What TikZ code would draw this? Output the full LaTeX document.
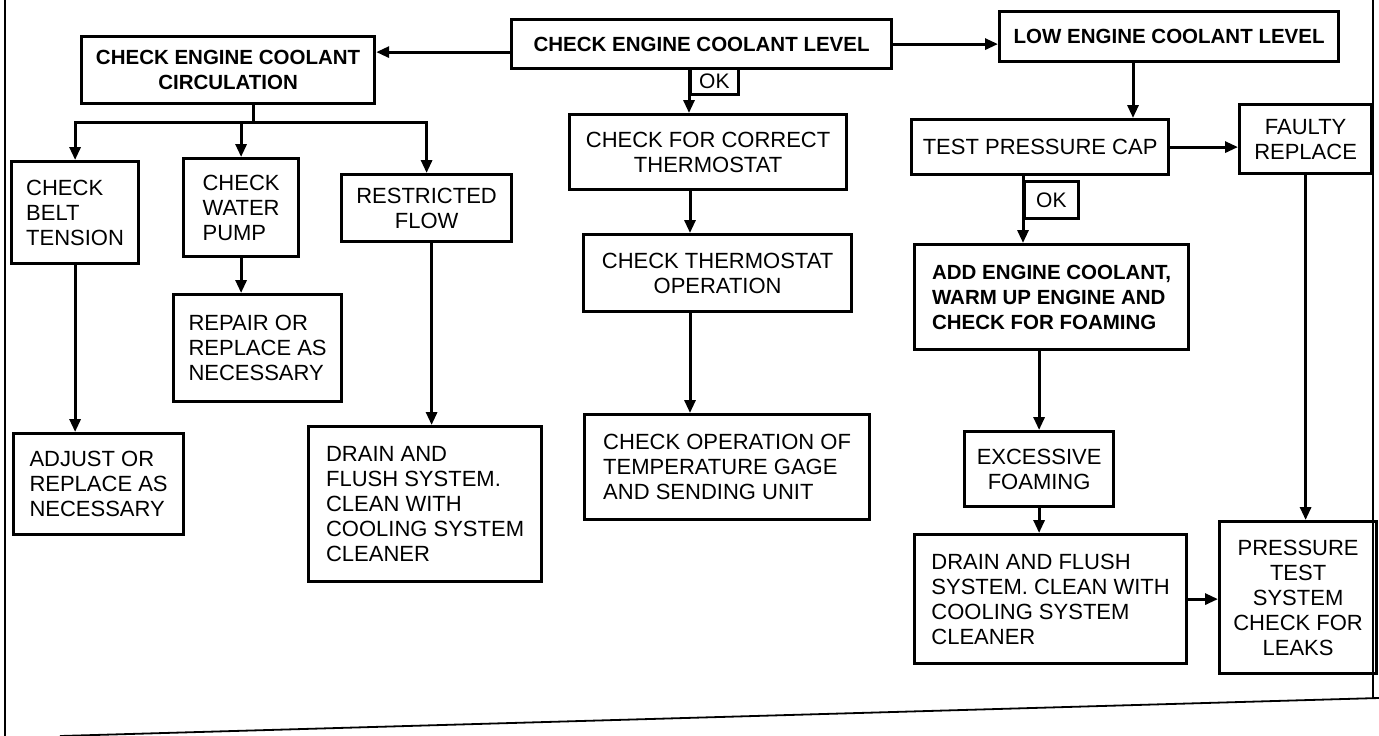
\documentclass[tikz,border=0pt]{standalone}
\usepackage{fontspec}
\setmainfont{Liberation Sans}
\setsansfont{Liberation Sans}
\usetikzlibrary{arrows.meta}
\tikzset{
	chkbox/.style={rectangle, draw=black, line width=3.2pt, anchor=north west, align=left, font=\sffamily\fontsize{22}{25}\selectfont},
	midbox/.style={chkbox, align=center},
	keybox/.style={chkbox, align=center, font=\sffamily\bfseries\fontsize{20.5}{25}\selectfont},
	okbox/.style={rectangle, draw=black, line width=2.8pt, anchor=north west, inner sep=0pt, font=\sffamily\fontsize{21}{24}\selectfont},
	arrow/.style={-{Triangle[length=13pt, width=11pt]}, line width=3pt},
	link/.style={line width=3pt},
	frameline/.style={line width=1.8pt},
}
\begin{document}
\begin{tikzpicture}[x=1pt, y=-1pt]
	\useasboundingbox (0,0) rectangle (1379,736);
	% scan frame
	\draw[frameline] (5,0) -- (5,736);
	\draw[frameline] (1373,0) -- (1373,698);
	\draw[frameline] (60,736) -- (1379,698);

	% top row
	\node[keybox, minimum width=293pt, minimum height=67pt] (circ) at (80,35) {CHECK ENGINE COOLANT\\CIRCULATION};
	\node[keybox, minimum width=380pt, minimum height=49pt] (level) at (510,18) {CHECK ENGINE COOLANT LEVEL};
	\node[keybox, minimum width=339pt, minimum height=50pt] (low) at (998,10) {LOW ENGINE COOLANT LEVEL};

	% middle column
	\node[okbox, minimum width=48pt, minimum height=26pt] (okthermo) at (689,67) {OK};
	\node[midbox, minimum width=277pt, minimum height=75pt] (correct) at (568,113) {CHECK FOR CORRECT\\THERMOSTAT};
	\node[midbox, minimum width=268pt, minimum height=77pt] (thermop) at (582,233) {CHECK THERMOSTAT\\OPERATION};
	\node[chkbox, minimum width=285pt, minimum height=105pt] (gage) at (583,413) {CHECK OPERATION OF\\TEMPERATURE GAGE\\AND SENDING UNIT};

	% circulation branch
	\node[chkbox, minimum width=127pt, minimum height=102pt] (belt) at (10,160) {CHECK\\BELT\\TENSION};
	\node[chkbox, minimum width=115pt, minimum height=98pt] (pump) at (182,157) {CHECK\\WATER\\PUMP};
	\node[midbox, minimum width=170pt, minimum height=67pt] (restr) at (340,173) {RESTRICTED\\FLOW};
	\node[chkbox, minimum width=168pt, minimum height=107pt] (repair) at (172,293) {REPAIR OR\\REPLACE AS\\NECESSARY};
	\node[chkbox, minimum width=170pt, minimum height=101pt] (adjust) at (12,432) {ADJUST OR\\REPLACE AS\\NECESSARY};
	\node[chkbox, minimum width=233pt, minimum height=155pt] (drainl) at (307,425) {DRAIN AND\\FLUSH SYSTEM.\\CLEAN WITH\\COOLING SYSTEM\\CLEANER};

	% low level branch
	\node[midbox, minimum width=257pt, minimum height=55pt] (cap) at (910,118) {TEST PRESSURE CAP};
	\node[midbox, minimum width=132pt, minimum height=69pt] (faulty) at (1238,103) {FAULTY\\REPLACE};
	\node[okbox, minimum width=54pt, minimum height=37pt] (okcap) at (1023,180) {OK};
	\node[keybox, align=left, minimum width=274pt, minimum height=105pt] (addcool) at (913,243) {ADD ENGINE COOLANT,\\WARM UP ENGINE AND\\CHECK FOR FOAMING};
	\node[midbox, minimum width=149pt, minimum height=75pt] (excess) at (963,430) {EXCESSIVE\\FOAMING};
	\node[chkbox, minimum width=272pt, minimum height=129pt] (drainr) at (913,533) {DRAIN AND FLUSH\\SYSTEM. CLEAN WITH\\COOLING SYSTEM\\CLEANER};
	\node[midbox, minimum width=157pt, minimum height=152pt] (press) at (1218,520) {PRESSURE\\TEST\\SYSTEM\\CHECK FOR\\LEAKS};

	\coordinate (bus) at (253,122);
	\coordinate (thermx) at (690,0);
	\coordinate (lowx) at (1133,0);

	% connectors
	\draw[arrow] ([yshift=-8pt]level.west) -- ([yshift=-8pt]level.west -| circ.east);
	\draw[arrow] (level.east) -- (level.east -| low.west);
	\draw[arrow] (okthermo.north west) -- (okthermo.north west |- correct.north);
	\draw[arrow] (correct.south -| thermx) -- (thermop.north -| thermx);
	\draw[arrow] (thermop.south -| thermx) -- (gage.north -| thermx);
	\draw[link] (circ.south -| bus) -- (bus);
	\draw[arrow] (bus) -| (belt.north);
	\draw[arrow] (bus) -| (pump.north);
	\draw[arrow] (bus) -| (restr.north);
	\draw[arrow] (belt.south) -- (belt.south |- adjust.north);
	\draw[arrow] (pump.south) -- (pump.south |- repair.north);
	\draw[arrow] ([xshift=5pt]restr.south) -- ([xshift=5pt]restr.south |- drainl.north);
	\draw[arrow] (low.south -| lowx) -- (cap.north -| lowx);
	\draw[arrow] (cap.east) -- (cap.east -| faulty.west);
	\draw[arrow] (cap.south -| okcap.west) -- (addcool.north -| okcap.west);
	\draw[arrow] (addcool.south -| excess.north) -- (excess.north);
	\draw[arrow] (excess.south) -- (excess.south |- drainr.north);
	\draw[arrow] (drainr.east) -- (drainr.east -| press.west);
	\draw[arrow] (faulty.south) -- (faulty.south |- press.north);
\end{tikzpicture}
\end{document}
